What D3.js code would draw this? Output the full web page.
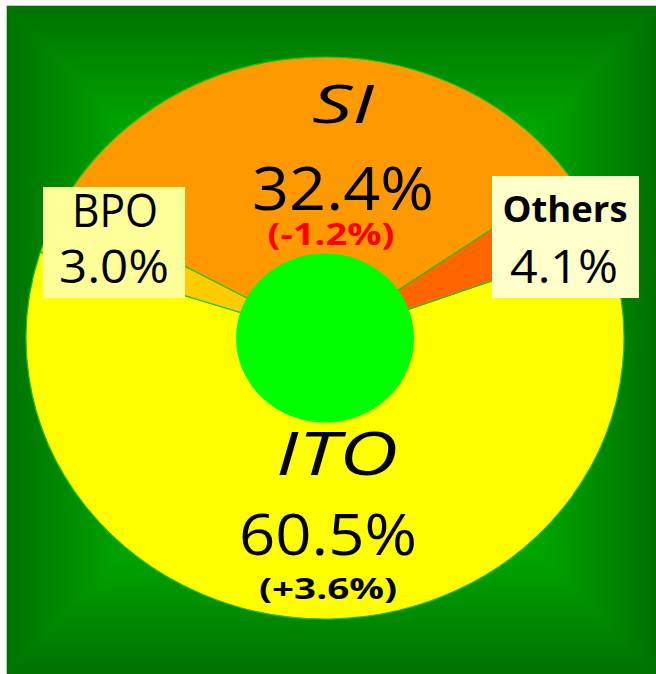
<!DOCTYPE html>
<html>
<head>
<meta charset="utf-8">
<script src="https://cdn.jsdelivr.net/npm/d3@7"></script>
<style>
  html, body { margin: 0; padding: 0; background: #ffffff; }
  svg { display: block; }
  text { font-family: "Open Sans", "Noto Sans", sans-serif; }
</style>
</head>
<body>
<script>
// ---- data ----
const categories = ["ITO", "BPO", "SI", "Others"];
const shares = [60.5, 3.0, 32.4, 4.1];
const changes = ["(+3.6%)", null, "(-1.2%)", null];
const sliceColors = ["#ffff00", "#ffcc00", "#ff9900", "#ff6600"];

// ---- layout (styles / positions, not data) ----
const W = 656, H = 674;
const bg = { x0: 7, y0: 6, x1: 656, y1: 674, inner: "#00ff00", outer: "#007200" };
const pieC = { cx: 325, cy: 338, rx: 299, ry: 281 };
const hole = { rx: 89, ry: 84.5, fill: "#00ff00" };
const startDeg = 70;

const labelLayout = {
  "SI":     { name: { x: 343, y: 123, size: 53, italic: true, len: 62 },
              val:  { x: 343, y: 210, size: 60, len: 182 },
              chg:  { x: 331, y: 245, size: 31, len: 127, color: "#ff0000" } },
  "ITO":    { name: { x: 337, y: 475, size: 60, italic: true, len: 122 },
              val:  { x: 328, y: 555, size: 56, len: 178 },
              chg:  { x: 328, y: 599, size: 28, len: 138, color: "#000000" } },
  "BPO":    { box: { x: 43, y: 187, w: 142, h: 111, fill: "#ffff99" },
              name: { x: 115, y: 226.5, size: 45, len: 86 },
              val:  { x: 114, y: 283, size: 46, len: 110 } },
  "Others": { box: { x: 492, y: 176, w: 147, h: 122, fill: "#ffffcc" },
              name: { x: 565, y: 222, size: 36, bold: true, len: 125 },
              val:  { x: 564, y: 283, size: 46, len: 108 } }
};

const svg = d3.select("body").append("svg")
  .attr("width", W).attr("height", H);

// ---- background: rectangular "from center" gradient ----
const defs = svg.append("defs");
const bcx = (bg.x0 + bg.x1) / 2, bcy = (bg.y0 + bg.y1) / 2;
const sides = [
  { id: "gT", pts: [[bg.x0, bg.y0], [bg.x1, bg.y0], [bcx, bcy]], to: [bcx, bg.y0] },
  { id: "gB", pts: [[bg.x0, bg.y1], [bg.x1, bg.y1], [bcx, bcy]], to: [bcx, bg.y1] },
  { id: "gL", pts: [[bg.x0, bg.y0], [bg.x0, bg.y1], [bcx, bcy]], to: [bg.x0, bcy] },
  { id: "gR", pts: [[bg.x1, bg.y0], [bg.x1, bg.y1], [bcx, bcy]], to: [bg.x1, bcy] }
];
sides.forEach(s => {
  const lg = defs.append("linearGradient").attr("id", s.id)
    .attr("gradientUnits", "userSpaceOnUse")
    .attr("x1", bcx).attr("y1", bcy).attr("x2", s.to[0]).attr("y2", s.to[1]);
  lg.append("stop").attr("offset", 0).attr("stop-color", bg.inner);
  lg.append("stop").attr("offset", 1).attr("stop-color", bg.outer);
});
svg.append("rect").attr("x", bg.x0).attr("y", bg.y0)
  .attr("width", bg.x1 - bg.x0).attr("height", bg.y1 - bg.y0)
  .attr("fill", "#009000");
svg.append("g").selectAll("polygon").data(sides).join("polygon")
  .attr("points", d => d.pts.map(p => p.join(",")).join(" "))
  .attr("fill", d => `url(#${d.id})`)
  .attr("stroke", d => `url(#${d.id})`)
  .attr("stroke-width", 0.6);

// ---- pie ----
const data = categories.map((c, i) => ({ cat: c, value: shares[i], color: sliceColors[i], change: changes[i] }));
const a0 = startDeg * Math.PI / 180;
const pie = d3.pie().value(d => d.value).sort(null)
  .startAngle(a0).endAngle(a0 + 2 * Math.PI);
const arc = d3.arc().innerRadius(0).outerRadius(pieC.rx);

const pg = svg.append("g")
  .attr("transform", `translate(${pieC.cx},${pieC.cy}) scale(1,${pieC.ry / pieC.rx})`);
pg.selectAll("path").data(pie(data)).join("path")
  .attr("d", arc)
  .attr("fill", d => d.data.color)
  .attr("stroke", "#22c400")
  .attr("stroke-width", 1.2)
  .attr("stroke-linejoin", "round");

svg.append("ellipse")
  .attr("cx", pieC.cx).attr("cy", pieC.cy)
  .attr("rx", hole.rx).attr("ry", hole.ry)
  .attr("fill", hole.fill);

// ---- labels ----
const lg = svg.append("g");
function addText(spec, str, color, bold) {
  const t = lg.append("text")
    .attr("x", spec.x).attr("y", spec.y)
    .attr("text-anchor", "middle")
    .attr("font-size", spec.size)
    .attr("fill", color || "#000")
    .attr("font-weight", (bold || spec.bold) ? "bold" : "normal")
    .attr("font-style", spec.italic ? "italic" : "normal")
    .text(str);
  if (spec.len) t.attr("textLength", spec.len).attr("lengthAdjust", "spacingAndGlyphs");
  return t;
}
data.forEach(d => {
  const L = labelLayout[d.cat];
  if (!L) return;
  if (L.box) {
    lg.append("rect").attr("x", L.box.x).attr("y", L.box.y)
      .attr("width", L.box.w).attr("height", L.box.h).attr("fill", L.box.fill);
  }
  addText(L.name, d.cat, "#000");
  addText(L.val, d.value.toFixed(1) + "%", "#000");
  if (d.change && L.chg) addText(L.chg, d.change, L.chg.color, true);
});
</script>
</body>
</html>
